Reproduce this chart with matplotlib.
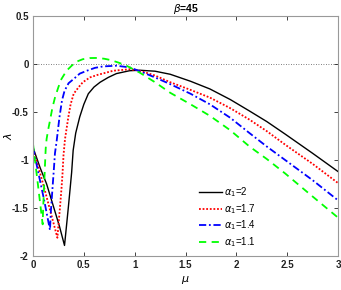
import matplotlib
matplotlib.use("Agg")
import matplotlib.pyplot as plt

plt.rcParams['font.family'] = ['Liberation Sans', 'DejaVu Sans']
plt.rcParams['mathtext.fontset'] = 'dejavusans'

title_text = r'$\beta$=45'
xlabel_text = r'$\mu$'
ylabel_text = r'$\lambda$'
labels = [r'$\alpha_1$=2', r'$\alpha_1$=1.7', r'$\alpha_1$=1.4', r'$\alpha_1$=1.1']

x_ticks = [0, 0.5, 1, 1.5, 2, 2.5, 3]
x_ticklabels = ['0', '0.5', '1', '1.5', '2', '2.5', '3']
y_ticks = [-2, -1.5, -1, -0.5, 0, 0.5]
y_ticklabels = ['-2', '-1.5', '-1', '-0.5', '0', '0.5']

mu_a2 = [0, 0.07, 0.134, 0.2, 0.26, 0.31, 0.33, 0.347, 0.365, 0.38, 0.395, 0.42, 0.46,
         0.50, 0.544, 0.60, 0.66, 0.74, 0.82, 0.95, 1.05, 1.2, 1.35, 1.55, 1.74, 1.94,
         2.13, 2.3, 2.48, 2.75, 3.0]
lam_a2 = [-0.87, -1.08, -1.25, -1.48, -1.69, -1.89, -1.68, -1.50, -1.30, -1.13, -0.90,
          -0.72, -0.55, -0.42, -0.31, -0.24, -0.19, -0.14, -0.10, -0.07, -0.065, -0.075,
          -0.107, -0.18, -0.26, -0.37, -0.49, -0.60, -0.73, -0.93, -1.12]

mu_a17 = [0, 0.06, 0.12, 0.18, 0.24, 0.25, 0.265, 0.28, 0.29, 0.30, 0.315, 0.347, 0.37,
          0.40, 0.45, 0.49, 0.56, 0.63, 0.79, 0.95, 1.05, 1.2, 1.35, 1.55, 1.74, 1.94,
          2.13, 2.3, 2.48, 2.75, 3.0]
lam_a17 = [-0.89, -1.10, -1.33, -1.57, -1.81, -1.68, -1.50, -1.30, -1.15, -0.95, -0.78,
           -0.556, -0.42, -0.31, -0.24, -0.19, -0.14, -0.115, -0.07, -0.055, -0.07, -0.12,
           -0.19, -0.27, -0.35, -0.46, -0.58, -0.70, -0.84, -1.04, -1.24]

mu_a14 = [0, 0.05, 0.11, 0.167, 0.175, 0.19, 0.205, 0.216, 0.233, 0.26, 0.285, 0.31, 0.35,
          0.40, 0.46, 0.53, 0.61, 0.69, 0.82, 0.95, 1.05, 1.2, 1.35, 1.55, 1.74, 1.94,
          2.13, 2.3, 2.48, 2.75, 3.0]
lam_a14 = [-0.87, -1.12, -1.42, -1.73, -1.55, -1.32, -1.10, -0.93, -0.80, -0.556, -0.38,
           -0.28, -0.20, -0.156, -0.10, -0.07, -0.04, -0.025, -0.018, -0.035, -0.075,
           -0.14, -0.21, -0.31, -0.42, -0.56, -0.72, -0.86, -1.00, -1.21, -1.42]

mu_a11 = [0, 0.05, 0.095, 0.1, 0.105, 0.11, 0.118, 0.125, 0.134, 0.15, 0.167, 0.19, 0.216,
          0.25, 0.28, 0.33, 0.38, 0.43, 0.49, 0.56, 0.63, 0.70, 0.76, 0.84, 0.92, 1.05,
          1.2, 1.35, 1.55, 1.74, 1.94, 2.13, 2.3, 2.48, 2.75, 3.0]
lam_a11 = [-0.83, -1.27, -1.67, -1.50, -1.38, -1.25, -1.05, -0.88, -0.78, -0.68, -0.59,
           -0.46, -0.35, -0.24, -0.156, -0.07, -0.018, 0.025, 0.05, 0.062, 0.063, 0.055,
           0.042, 0.015, -0.018, -0.09, -0.19, -0.30, -0.42, -0.54, -0.69, -0.86, -0.99,
           -1.14, -1.38, -1.60]

fig = plt.figure(figsize=(3.41, 2.90), dpi=100)
ax = fig.add_axes([33/341, 1 - 256/290, 305/341, 240/290])

ax.axhline(0, color='#555555', ls=(0, (1, 2)), lw=0.6, zorder=1)

ax.plot(mu_a2, lam_a2, color='black', ls='-', lw=1.0, label=labels[0])
ax.plot(mu_a17, lam_a17, color='#ff0000', ls=(0, (1, 1)), lw=1.3, label=labels[1])
ax.plot(mu_a14, lam_a14, color='#0000ff', ls=(0, (4, 1.5, 1, 1.5)), lw=1.3, label=labels[2])
ax.plot(mu_a11, lam_a11, color='#00ff00', ls=(0, (4, 3)), lw=1.3, label=labels[3])

ax.set_xlim(0, 3)
ax.set_ylim(-2, 0.5)
ax.set_xticks(x_ticks)
ax.set_xticklabels(x_ticklabels)
ax.set_yticks(y_ticks)
ax.set_yticklabels(y_ticklabels)
ax.tick_params(direction='in', top=True, right=True, length=3, width=0.6,
               colors='#222222', labelsize=7, pad=3)
for lab in ax.get_xticklabels() + ax.get_yticklabels():
    lab.set_fontweight('bold')
for s in ax.spines.values():
    s.set_color('#999999')
    s.set_linewidth(0.8)

ax.set_title(title_text, fontsize=7.5, fontweight='bold', pad=3)
ax.set_xlabel(xlabel_text, fontsize=8, labelpad=3)
ax.set_ylabel(ylabel_text, fontsize=8)
ax.yaxis.set_label_coords(-0.062, 0.5)

ax.legend(loc='upper left', bbox_to_anchor=(0.545, 0.295), frameon=False, fontsize=7,
          handlelength=2.3, handletextpad=0.2, borderpad=0, borderaxespad=0,
          labelspacing=0.3)

fig.savefig('out.png', dpi=100)
